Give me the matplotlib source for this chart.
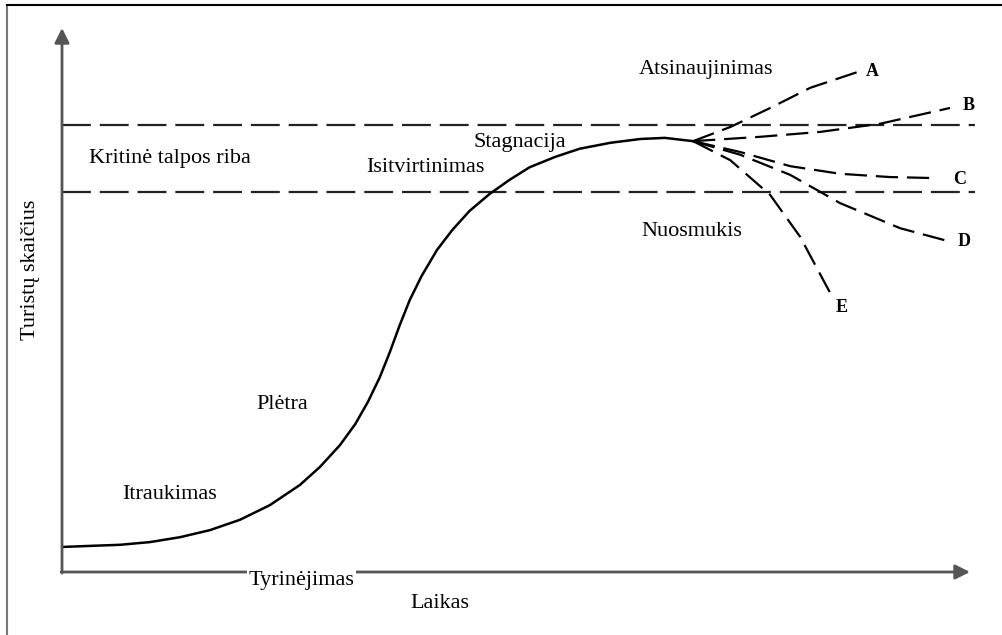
import matplotlib
matplotlib.use("Agg")
import matplotlib.pyplot as plt
from matplotlib.lines import Line2D

# main life-cycle curve (time, tourists)
curve_x = [0, 3.1, 6.4, 9.7, 13.0, 16.3, 19.6, 22.9, 26.2, 28.4, 30.6, 32.3, 33.7,
           35.0, 36.1, 37.2, 38.3, 39.6, 41.3, 43.0, 44.9, 47.1, 49.3, 51.5, 54.3,
           57.0, 60.4, 63.7, 66.4, 69.5]
curve_y = [4.6, 4.8, 5.0, 5.5, 6.4, 7.7, 9.6, 12.3, 16.0, 19.3, 23.3, 27.2, 31.3,
           35.8, 40.4, 45.4, 50.0, 54.4, 59.2, 62.9, 66.4, 69.5, 72.1, 74.4, 76.3,
           77.8, 78.9, 79.6, 79.8, 79.2]

# scenario branches after stagnation
branch_names = ["A", "B", "C", "D", "E"]
branch_x = [
    [69.5, 73.6, 78.0, 82.4, 87.6],
    [69.5, 76.9, 83.5, 90.1, 97.8],
    [69.5, 74.7, 80.2, 85.7, 91.2, 96.4],
    [69.5, 74.7, 80.2, 85.7, 92.3, 97.2],
    [69.5, 73.6, 78.0, 81.3, 84.6],
]
branch_y = [
    [79.2, 81.8, 85.3, 89.0, 91.9],
    [79.2, 80.0, 80.9, 82.4, 85.3],
    [79.2, 77.2, 74.6, 73.2, 72.6, 72.4],
    [79.2, 76.7, 73.0, 67.8, 63.2, 61.0],
    [79.2, 75.7, 69.3, 61.6, 51.3],
]
branch_label_x = [89.2, 99.8, 98.9, 99.4, 85.9]
branch_label_y = [92.0, 85.7, 72.2, 60.8, 48.7]

# critical capacity band
capacity_upper = 82.2
capacity_lower = 69.9

stage_names = ["Kritinė talpos riba", "Isitvirtinimas", "Stagnacija", "Atsinaujinimas",
               "Nuosmukis", "Plėtra", "Itraukimas", "Tyrinėjimas"]
stage_x = [11.9, 40.0, 50.4, 70.9, 69.4, 24.3, 11.9, 26.4]
stage_y = [76.1, 74.3, 79.0, 92.3, 62.5, 30.7, 14.2, -1.6]

plt.rcParams['font.family'] = ['Liberation Serif', 'DejaVu Serif']

fig = plt.figure(figsize=(10.03, 6.35), dpi=100)
ax = fig.add_axes([62 / 1003, 63 / 635, 908 / 1003, 544 / 635])
ax.set_xlim(0, 100)
ax.set_ylim(0, 100)
ax.axis('off')

# frame around the picture (left and top edges)
fig.add_artist(Line2D([7 / 1003, 7 / 1003], [0, 1 - 5 / 635], color='#777777', lw=1.5))
fig.add_artist(Line2D([7 / 1003, 1], [1 - 5 / 635, 1 - 5 / 635], color='black', lw=1.5))

# axes with arrows
arrow = dict(arrowstyle='-|>', color='#555555', lw=2, mutation_scale=22,
             shrinkA=0, shrinkB=0, facecolor='black')
ax.annotate('', xy=(0, 100), xytext=(0, -0.2), arrowprops=arrow, annotation_clip=False)
ax.annotate('', xy=(100, 0), xytext=(-0.1, 0), arrowprops=arrow, annotation_clip=False)

# capacity band
for yv in [capacity_upper, capacity_lower]:
    ax.plot([0, 100.5], [yv, yv], color='#222222', lw=1.6, dashes=(13, 4),
            clip_on=False)

ax.plot(curve_x, curve_y, color='black', lw=1.8, solid_capstyle='round',
        solid_joinstyle='round')

for bx, by in zip(branch_x, branch_y):
    ax.plot(bx, by, color='black', lw=1.6, dashes=(10, 4), clip_on=False)

for name, lx, ly in zip(branch_names, branch_label_x, branch_label_y):
    ax.text(lx, ly, name, fontsize=13, fontweight='bold', ha='center', va='center')

for name, sx, sy in zip(stage_names, stage_x, stage_y):
    t = ax.text(sx, sy, name, fontsize=16, ha='center', va='center', zorder=5)
    if name in ("Tyrinėjimas", "Isitvirtinimas"):
        t.set_bbox(dict(facecolor='white', edgecolor='none', pad=1))

ax.text(41.6, -5.8, "Laikas", fontsize=16, ha='center', va='center')
ax.text(-3.5, 55.5, "Turistų skaičius", fontsize=16, ha='center', va='center',
        rotation=90)

fig.savefig("out.png", dpi=100)
